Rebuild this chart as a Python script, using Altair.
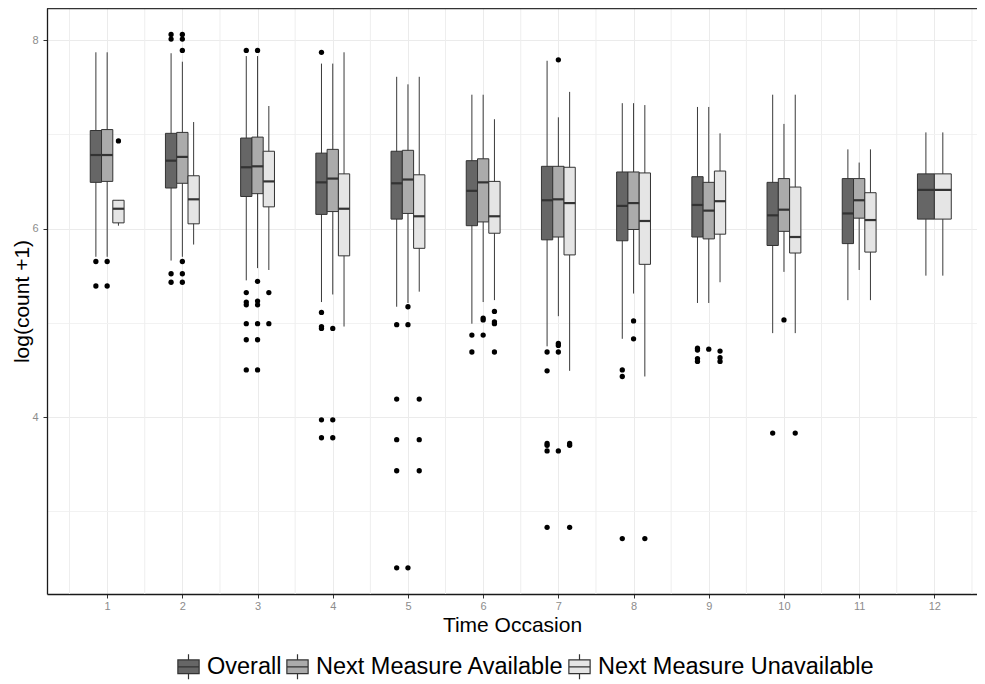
import altair as alt
import pandas as pd

# ---------------- data ----------------
occasions = list(range(1, 13))
groups = ["Overall", "Next Measure Available", "Next Measure Unavailable"]
group_colors = ["#666666", "#ABABAB", "#E5E5E5"]

overall_lo = [5.70, 5.66, 5.45, 5.22, 5.17, 4.99, 4.75, 4.83, 5.21, 4.89, 5.24, 5.50]
overall_q1 = [6.49, 6.43, 6.34, 6.15, 6.10, 6.03, 5.88, 5.87, 5.91, 5.82, 5.84, 6.10]
overall_med = [6.78, 6.72, 6.65, 6.49, 6.48, 6.40, 6.30, 6.24, 6.25, 6.14, 6.16, 6.41]
overall_q3 = [7.04, 7.01, 6.96, 6.80, 6.82, 6.72, 6.66, 6.60, 6.55, 6.49, 6.53, 6.58]
overall_hi = [7.87, 7.86, 7.83, 7.75, 7.61, 7.42, 7.78, 7.33, 7.29, 7.42, 6.84, 7.02]
overall_out = [
    [5.65, 5.39],
    [8.06, 8.01, 5.52, 5.43],
    [7.89, 5.32, 5.22, 5.19, 4.99, 4.82, 4.50],
    [7.87, 5.11, 4.96, 4.94, 3.97, 3.78],
    [4.98, 4.19, 3.76, 3.43, 2.40],
    [4.87, 4.69],
    [4.69, 4.49, 3.72, 3.70, 3.64, 2.83],
    [4.50, 4.43, 2.71],
    [4.73, 4.71, 4.62, 4.59],
    [3.83],
    [],
    [],
]

avail_lo = [5.70, 5.70, 5.58, 5.30, 5.21, 5.22, 5.07, 5.31, 5.21, 5.54, 5.56, None]
avail_q1 = [6.50, 6.48, 6.37, 6.18, 6.16, 6.07, 5.91, 5.99, 5.89, 5.97, 6.11, None]
avail_med = [6.78, 6.76, 6.66, 6.53, 6.52, 6.49, 6.31, 6.27, 6.19, 6.20, 6.30, None]
avail_q3 = [7.05, 7.02, 6.97, 6.84, 6.83, 6.74, 6.66, 6.60, 6.49, 6.53, 6.53, None]
avail_hi = [7.87, 7.77, 7.83, 7.75, 7.53, 7.42, 7.18, 7.33, 7.29, 7.11, 6.70, None]
avail_out = [
    [5.65, 5.39],
    [8.06, 8.01, 7.89, 5.65, 5.52, 5.43],
    [7.89, 5.44, 5.23, 5.19, 4.99, 4.82, 4.50],
    [4.94, 3.97, 3.78],
    [5.17, 4.98, 2.40],
    [5.05, 5.03, 4.87],
    [7.79, 4.78, 4.76, 4.69, 3.64],
    [5.02, 4.83],
    [4.72],
    [5.03],
    [],
    [],
]

unavail_lo = [6.03, 5.83, 5.56, 4.96, 5.33, 5.24, 4.49, 4.43, 5.43, 4.89, 5.24, 5.50]
unavail_q1 = [6.06, 6.05, 6.23, 5.71, 5.79, 5.95, 5.72, 5.62, 5.94, 5.74, 5.75, 6.10]
unavail_med = [6.21, 6.31, 6.50, 6.21, 6.13, 6.13, 6.27, 6.08, 6.29, 5.91, 6.09, 6.41]
unavail_q3 = [6.30, 6.56, 6.82, 6.58, 6.57, 6.50, 6.65, 6.59, 6.61, 6.44, 6.38, 6.58]
unavail_hi = [6.30, 7.13, 7.30, 7.87, 7.61, 7.16, 7.45, 7.31, 7.01, 7.42, 6.84, 7.02]
unavail_out = [
    [6.93],
    [],
    [5.32, 4.99],
    [],
    [4.19, 3.76, 3.43],
    [5.12, 5.01, 4.99, 4.69],
    [3.72, 3.70, 2.83],
    [2.71],
    [4.70, 4.63, 4.59],
    [3.83],
    [],
    [],
]

x_ticks = [1, 2, 3, 4, 5, 6, 7, 8, 9, 10, 11, 12]
y_ticks = [4, 6, 8]

# ---------------- build tables ----------------
stats = {
    groups[0]: (overall_lo, overall_q1, overall_med, overall_q3, overall_hi, overall_out),
    groups[1]: (avail_lo, avail_q1, avail_med, avail_q3, avail_hi, avail_out),
    groups[2]: (unavail_lo, unavail_q1, unavail_med, unavail_q3, unavail_hi, unavail_out),
}
DODGE = 0.45

box_rows, out_rows = [], []
for i, occ in enumerate(occasions):
    present = [g for g in groups if stats[g][2][i] is not None]
    n = len(present)
    w = DODGE / n
    for j, g in enumerate(present):
        lo, q1, med, q3, hi, out = stats[g]
        xc = occ + (j - (n - 1) / 2) * w
        box_rows.append(dict(group=g, occ=occ, xc=xc, xl=xc - w / 2, xr=xc + w / 2,
                             lo=lo[i], q1=q1[i], med=med[i], q3=q3[i], hi=hi[i]))
        for v in out[i]:
            out_rows.append(dict(group=g, occ=occ, xc=xc, val=v))

boxes = pd.DataFrame(box_rows)
outs = pd.DataFrame(out_rows)
# minor vertical grid lines halfway between occasions
minor_x = pd.DataFrame({"mx": [o - 0.5 for o in occasions] + [occasions[-1] + 0.5]})

PLOT_W, PLOT_H = 930, 586
xscale = alt.Scale(domain=[0.2, 0.2 + PLOT_W / 75.2], nice=False, zero=False)
yscale = alt.Scale(domain=[2.122, 8.34], nice=False, zero=False)

x_axis = alt.Axis(
    values=x_ticks, format="d", labelOverlap=False,
    title="Time Occasion",
    titleFontSize=21, titleFontWeight="normal", titleColor="black",
    titleBaseline="alphabetic", titleY=37,
    labelFontSize=11, labelColor="#8C8C8C", labelPadding=2,
    tickSize=4, tickColor="#333333",
    grid=True, gridColor="#EBEBEB",
    domainColor="#1a1a1a", domainWidth=1.3,
)
y_axis = alt.Axis(
    values=[3, 4, 5, 6, 7, 8],
    labelExpr="datum.value % 2 === 0 ? format(datum.value, 'd') : ''",
    labelOverlap=False,
    title="log(count +1)",
    titleFontSize=21, titleFontWeight="normal", titleColor="black",
    titleAngle=-90, titleX=-25, titleY=293, titleBaseline="middle", titleAlign="center",
    labelFontSize=11, labelColor="#8C8C8C", labelPadding=5,
    tickSize=4, tickColor="#333333",
    tickOpacity={"condition": {"test": "datum.value % 2 !== 0", "value": 0}, "value": 1},
    grid=True,
    gridColor={"condition": {"test": "datum.value % 2 !== 0", "value": "#F2F2F2"}, "value": "#EBEBEB"},
    domainColor="#1a1a1a", domainWidth=1.3,
)

box_symbol = ("M-0.85,-0.55L0.85,-0.55L0.85,0.55L-0.85,0.55Z "
              "M-0.85,0L0.85,0 M0,-0.55L0,-1 M0,0.55L0,1")

legend = alt.Legend(
    orient="none", legendX=128, legendY=645, direction="horizontal", title=None,
    symbolType=box_symbol, symbolSize=625, symbolStrokeColor="#333333",
    symbolStrokeWidth=1.2, symbolOpacity=1,
    labelFontSize=23.5, labelColor="black", labelOffset=5, columnPadding=2,
    padding=0, labelLimit=400,
)

minor_grid = alt.Chart(minor_x).mark_rule(color="#EEEEEE", strokeWidth=1).encode(
    x=alt.X("mx:Q", scale=xscale, axis=x_axis),
)

top_border = alt.Chart(minor_x.head(1)).mark_rule(color="#333333", strokeWidth=1.2).encode(
    y=alt.value(0.6),
)

base_box = alt.Chart(boxes)

whiskers = base_box.mark_rule(color="#3a3a3a", strokeWidth=1).encode(
    x=alt.X("xc:Q", scale=xscale, axis=x_axis),
    y=alt.Y("lo:Q", scale=yscale, axis=y_axis),
    y2="hi:Q",
)

bars = base_box.mark_bar(stroke="#333333", strokeWidth=1, opacity=1).encode(
    x=alt.X("xl:Q", scale=xscale, axis=x_axis),
    x2="xr:Q",
    y=alt.Y("q1:Q", scale=yscale, axis=y_axis),
    y2="q3:Q",
    fill=alt.Fill("group:N", scale=alt.Scale(domain=groups, range=group_colors), legend=legend),
)

medians = base_box.mark_rule(color="#333333", strokeWidth=2.2).encode(
    x=alt.X("xl:Q", scale=xscale, axis=x_axis),
    x2="xr:Q",
    y=alt.Y("med:Q", scale=yscale, axis=y_axis),
)

points = alt.Chart(outs).mark_circle(color="black", size=28, opacity=1).encode(
    x=alt.X("xc:Q", scale=xscale, axis=x_axis),
    y=alt.Y("val:Q", scale=yscale, axis=y_axis),
)

chart = alt.layer(minor_grid, whiskers, bars, medians, points, top_border).properties(
    width=PLOT_W, height=PLOT_H,
    autosize=alt.AutoSizeParams(type="none"),
    padding={"left": 39, "top": 0, "right": 0, "bottom": 86},
).configure(
    font="Liberation Sans",
).configure_view(
    stroke="transparent", strokeWidth=0,
)

chart.save("out.html", embed_options={"renderer": "svg", "actions": False})
